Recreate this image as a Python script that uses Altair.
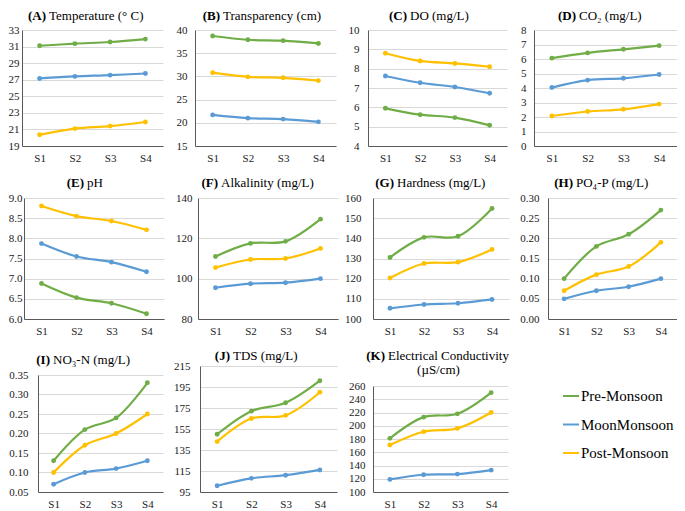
import altair as alt
import pandas as pd

FONT = "Liberation Serif, Tinos, 'Times New Roman', 'DejaVu Serif', serif"
SITES = ["S1", "S2", "S3", "S4"]
SERIES = ["Pre-Monsoon", "MoonMonsoon", "Post-Monsoon"]
COLORS = ["#70AD47", "#5B9BD5", "#FFC000"]

# values per series: [Pre-Monsoon, MoonMonsoon, Post-Monsoon]
temperature = [[31.1, 31.35, 31.55, 31.9], [27.15, 27.4, 27.55, 27.75], [20.35, 21.1, 21.4, 21.9]]
transparency = [[38.7, 37.9, 37.7, 37.1], [21.7, 21.0, 20.8, 20.2], [30.8, 29.9, 29.7, 29.1]]
do_vals = [[5.95, 5.62, 5.47, 5.07], [7.62, 7.27, 7.05, 6.73], [8.8, 8.4, 8.27, 8.1]]
co2 = [[6.06, 6.42, 6.67, 6.92], [4.03, 4.54, 4.67, 4.93], [2.07, 2.38, 2.53, 2.89]]
ph = [[6.88, 6.53, 6.39, 6.13], [7.87, 7.55, 7.41, 7.17], [8.8, 8.55, 8.43, 8.21]]
alkalinity = [[111, 117.5, 118.5, 129.5], [95.5, 97.5, 98, 100], [105.5, 109.5, 110, 115]]
hardness = [[130.5, 140.5, 141, 154.8], [105.3, 107.2, 107.8, 109.7], [120.3, 127.5, 128.2, 134.5]]
po4 = [[0.10, 0.18, 0.21, 0.27], [0.05, 0.07, 0.08, 0.10], [0.07, 0.11, 0.13, 0.19]]
no3 = [[0.13, 0.21, 0.24, 0.33], [0.07, 0.10, 0.11, 0.13], [0.10, 0.17, 0.20, 0.25]]
tds = [[150, 172, 180, 201], [101, 108, 111, 116], [143, 165, 168, 190]]
ec = [[181, 213, 218, 250], [119, 126, 127, 133], [171, 191, 196, 220]]

temp_ticks = [19, 21, 23, 25, 27, 29, 31, 33]
transp_ticks = [15, 20, 25, 30, 35, 40]
do_ticks = [4, 5, 6, 7, 8, 9, 10]
co2_ticks = [0, 1, 2, 3, 4, 5, 6, 7, 8]
ph_ticks = [6.0, 6.5, 7.0, 7.5, 8.0, 8.5, 9.0]
alk_ticks = [80, 100, 120, 140]
hard_ticks = [100, 110, 120, 130, 140, 150, 160]
po4_ticks = [0.0, 0.05, 0.10, 0.15, 0.20, 0.25, 0.30]
no3_ticks = [0.05, 0.10, 0.15, 0.20, 0.25, 0.30, 0.35]
tds_ticks = [95, 115, 135, 155, 175, 195, 215]
ec_ticks = [100, 120, 140, 160, 180, 200, 220, 240, 260]


def spacer(w, h=1):
    return alt.Chart(pd.DataFrame({"v": [0]})).mark_point(opacity=0, size=1).encode(
        x=alt.value(0), y=alt.value(0)
    ).properties(width=w, height=h)


def panel(values, ticks, fmt, bold, text, w, h, split, ty, lpad, top=0, line2=None):
    rows = []
    for s, vals in zip(SERIES, values):
        for site, v in zip(SITES, vals):
            rows.append({"site": site, "series": s, "value": v})
    df = pd.DataFrame(rows)
    yscale = alt.Scale(domain=[ticks[0], ticks[-1]], nice=False, zero=False)
    if top:
        yscale = alt.Scale(domain=[ticks[0], ticks[-1]], nice=False, zero=False,
                           range=[h, top])
    base = alt.Chart(df).encode(
        x=alt.X("site:N", sort=SITES,
                scale=alt.Scale(type="point", padding=0.5),
                axis=alt.Axis(title=None, labelAngle=0, ticks=False, grid=False,
                              labelPadding=6)),
        y=alt.Y("value:Q", scale=yscale,
                axis=alt.Axis(title=None, values=ticks, format=fmt, ticks=False,
                              grid=True, labelPadding=lpad)),
        color=alt.Color("series:N", scale=alt.Scale(domain=SERIES, range=COLORS),
                        legend=None),
    )
    line = base.mark_line(interpolate="catmull-rom", strokeWidth=2.2)
    pts = base.mark_circle(size=24, opacity=1)
    ty = top + ty
    tb = alt.Chart(pd.DataFrame({"t": [bold]})).mark_text(
        font=FONT, fontSize=13, fontWeight="bold", align="right", baseline="middle",
        color="#000000"
    ).encode(text="t:N", x=alt.value(split - 1), y=alt.value(ty))
    tn = alt.Chart(pd.DataFrame({"t": [text]})).mark_text(
        font=FONT, fontSize=13, align="left", baseline="middle", color="#000000"
    ).encode(text="t:N", x=alt.value(split + 2), y=alt.value(ty))
    layers = [line, pts, tb, tn]
    if line2:
        t2 = alt.Chart(pd.DataFrame({"t": [line2]})).mark_text(
            font=FONT, fontSize=13, align="center", baseline="middle", color="#000000"
        ).encode(text="t:N", x=alt.value(w / 2 - 2), y=alt.value(ty + 14))
        layers.append(t2)
    return alt.layer(*layers).properties(width=w, height=h)


A = panel(temperature, temp_ticks, "d", "(A)", "Temperature (° C)", 141, 116, 25, -14, 3)
B = panel(transparency, transp_ticks, "d", "(B)", "Transparency (cm)", 141, 116, 26, -14, 8)
C = panel(do_vals, do_ticks, "d", "(C)", "DO (mg/L)", 139, 116, 40, -14, 9)
D = panel(co2, co2_ticks, "d", "(D)", "CO₂ (mg/L)", 143, 116, 43, -14, 8)

E = panel(ph, ph_ticks, ".1f", "(E)", "pH", 140, 121, 61, -15, 2)
F = panel(alkalinity, alk_ticks, "d", "(F)", "Alkalinity (mg/L)", 140, 121, 21, -15, 6)
G = panel(hardness, hard_ticks, "d", "(G)", "Hardness (mg/L)", 136, 121, 22, -15, 12)
H = panel(po4, po4_ticks, ".2f", "(H)", "PO₄-P (mg/L)", 129, 121, 26, -15, 9)

I = panel(no3, no3_ticks, ".2f", "(I)", "NO₃-N (mg/L)", 125, 126, 13, -15, 10, top=9)
J = panel(tds, tds_ticks, "d", "(J)", "TDS (mg/L)", 137, 126, 31, -10, 10)
K = panel(ec, ec_ticks, "d", "(K)", "Electrical Conductivity", 135, 126, 13, -30, 8,
          top=20, line2="(µS/cm)")

leg_df = pd.DataFrame({"series": SERIES})
legY = alt.Y("series:N", sort=SERIES, axis=None,
             scale=alt.Scale(type="point", domain=SERIES, range=[30, 87], padding=0))
legColor = alt.Color("series:N", scale=alt.Scale(domain=SERIES, range=COLORS), legend=None)
leg_rule = alt.Chart(leg_df).mark_rule(strokeWidth=2).encode(
    x=alt.value(35), x2=alt.value(51), y=legY, color=legColor)
leg_text = alt.Chart(leg_df).mark_text(
    align="left", baseline="middle", font=FONT, fontSize=15, color="#000000"
).encode(x=alt.value(53), y=legY, text="series:N")
legend = alt.layer(leg_rule, leg_text).properties(width=100, height=126)

row1 = alt.hconcat(A, spacer(32), B, spacer(32), C, spacer(27), D,
                   spacing=0, bounds="flush")
row2 = alt.hconcat(spacer(2), E, spacer(34), F, spacer(35), G, spacer(39), H,
                   spacing=0, bounds="flush")
row3 = alt.hconcat(spacer(16), I, spacer(37), J, spacer(36), K, spacer(20), legend,
                   spacing=0, bounds="flush")

chart = alt.vconcat(row1, row2, row3, spacing=14).properties(
    padding={"top": 2, "left": 0, "right": 0, "bottom": 0}
).configure(font=FONT).configure_view(stroke=None).configure_axis(
    labelFont=FONT, labelFontSize=11, labelColor="#1a1a1a",
    domainColor="#595959", domainWidth=1, gridColor="#D9D9D9", gridWidth=1,
    labelFlush=False, labelOverlap=False
)

chart.save("out.html", embed_options={"renderer": "svg", "actions": False})
